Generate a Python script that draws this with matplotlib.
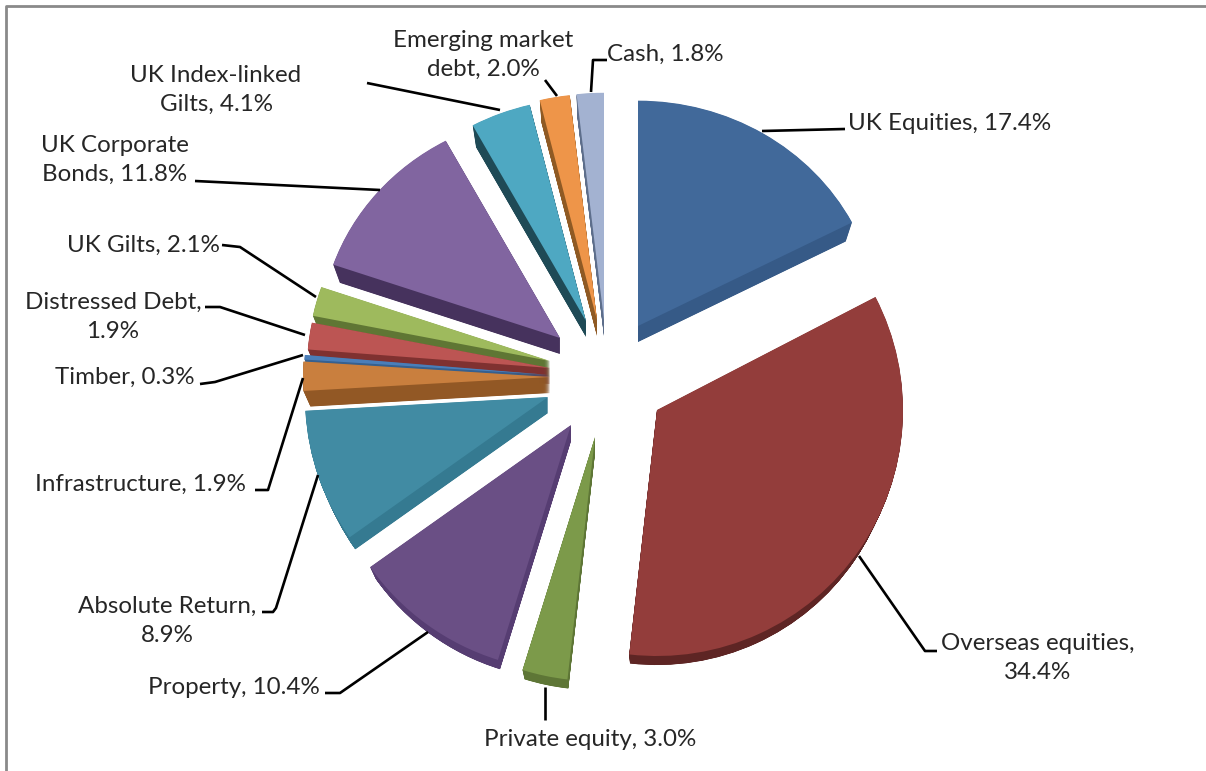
import numpy as np
import matplotlib
matplotlib.use("Agg")
import matplotlib.pyplot as plt
from matplotlib.patches import Wedge
from matplotlib.transforms import Affine2D

plt.rcParams['font.family'] = ['Lato', 'DejaVu Sans']

# allocation, clockwise from twelve o'clock
names = ["UK Equities", "Overseas equities", "Private equity", "Property",
         "Absolute Return", "Infrastructure", "Timber", "Distressed Debt",
         "UK Gilts", "UK Corporate", "UK Index-linked", "Emerging market", "Cash"]
values = [17.4, 34.4, 3.0, 10.4, 8.9, 1.9, 0.3, 1.9, 2.1, 11.8, 4.1, 2.0, 1.8]

# label layout: text before the break, text after it
first_lines = ["UK Equities, {}%", "Overseas equities,", "Private equity, {}%", "Property, {}%",
               "Absolute Return,", "Infrastructure, {}%", "Timber, {}%", "Distressed Debt,",
               "UK Gilts, {}%", "UK Corporate", "UK Index-linked", "Emerging market", "Cash, {}%"]
second_lines = [None, "{}%", None, None, "{}%", None, None, "{}%", None,
                "Bonds, {}%", "Gilts, {}%", "debt, {}%", None]
label_x = [950, 1038, 590, 234, 167, 140, 125, 113, 143, 115, 216, 483, 665]
label_y = [123, 658, 739, 688, 621, 484, 377, 317, 245, 160, 90, 55, 54]

top_colors = ["#41699a", "#933d3b", "#7c9a4a", "#6a4f85", "#418ba3", "#c97f3e", "#4a7eb9",
              "#bc5553", "#9eba5d", "#8165a0", "#4ea8c2", "#ee9549", "#a3b2d1"]
side_colors = ["#365a87", "#5e2524", "#5e7636", "#563d72", "#357a91", "#925825", "#36608f",
               "#7f3130", "#5f7634", "#46325d", "#1f4a56", "#8f5a24", "#5d6e8b"]

# where each exploded slice has its point, its reach, and the foreshortening of the far half
apex_x = [638, 657, 595, 571, 548, 550, 550, 550, 550, 560, 586, 597, 604]
apex_y = [326, 410, 437, 425, 397, 377, 375, 368, 361, 338, 321, 320, 320]
radius = [241, 246, 244, 246, 243, 247, 246, 243, 242, 240, 238, 242, 243]
squash = [0.935, 1, 1, 1, 1, 1, 1, 0.935, 0.935, 0.935, 0.935, 0.935, 0.935]
depth = 16
shrink = 7

leaders = [
    [(762, 131), (845, 129)],
    [(859, 556), (925, 651), (937, 651)],
    [(545, 687), (545, 720)],
    [(428, 632), (340, 693), (325, 693)],
    [(318, 475), (276, 608), (273, 612), (262, 612)],
    [(303, 378), (268, 490), (255, 490)],
    [(303, 355), (215, 382), (200, 384)],
    [(305, 335), (220, 307), (205, 307)],
    [(316, 297), (240, 247), (222, 245)],
    [(380, 190), (195, 181)],
    [(500, 110), (367, 83)],
    [(557, 96), (545, 80)],
    [(591, 92), (593, 60), (607, 60)],
]

fig = plt.figure(figsize=(12.06, 7.71), dpi=100)
ax = fig.add_axes([0, 0, 1, 1])
ax.set_xlim(0, 1206)
ax.set_ylim(771, 0)
ax.axis('off')

edges = np.cumsum([0] + values) / sum(values) * 360 - 90

# lower slices go on last so they cover the side walls of the ones above
for i in range(len(values) - 1, -1, -1):
    for t in np.linspace(1, 0, 49):
        base = Affine2D().scale(1, squash[i]).translate(apex_x[i], apex_y[i] + t * depth)
        ax.add_patch(Wedge((0, 0), radius[i] - t * shrink, edges[i], edges[i + 1],
                           facecolor=side_colors[i] if t > 0 else top_colors[i],
                           edgecolor='none', linewidth=0,
                           transform=base + ax.transData, zorder=2))

for path in leaders:
    xs, ys = zip(*path)
    ax.plot(xs, ys, color='black', lw=1.9, zorder=3, solid_capstyle='butt')

for i, v in enumerate(values):
    text = first_lines[i].format(v)
    if second_lines[i]:
        text += "\n" + second_lines[i].format(v)
    ax.text(label_x[i], label_y[i], text, ha='center', va='center', fontsize=17.4,
            color='#262626', linespacing=1.44, zorder=4)

# chart frame only shows along the top and left
ax.plot([6, 6, 1206], [771, 6, 6], color='#8a8a8a', lw=2, zorder=1, clip_on=False)

fig.savefig("out.png", dpi=100)
